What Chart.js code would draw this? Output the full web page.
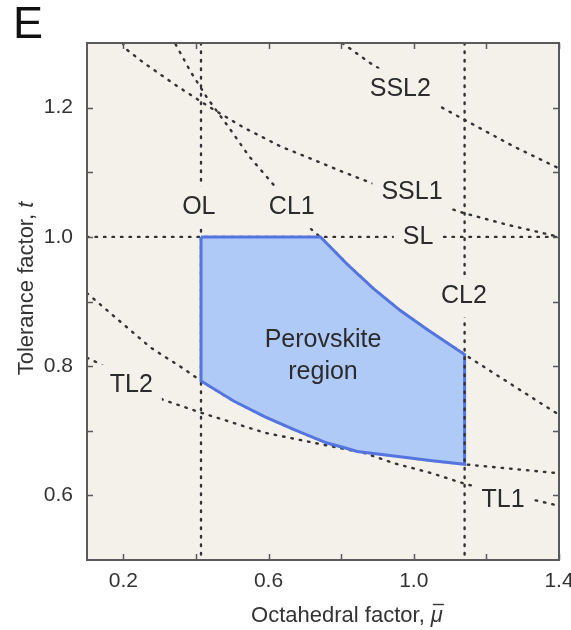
<!DOCTYPE html>
<html>
<head>
<meta charset="utf-8">
<script src="https://cdn.jsdelivr.net/npm/chart.js@4.4.1/dist/chart.umd.min.js"></script>
<style>
  html, body { margin: 0; padding: 0; background: #fff; }
  canvas { display: block; }
</style>
</head>
<body>
<canvas id="chart" width="571" height="630"></canvas>
<script>
const FONT = '"Liberation Sans", Arial, Helvetica, sans-serif';

// axis ticks (labels only on every other tick)
const xTicks = [0.2, 0.4, 0.6, 0.8, 1.0, 1.2, 1.4];
const xTickLabels = ['0.2', '', '0.6', '', '1.0', '', '1.4'];
const yTicks = [0.6, 0.7, 0.8, 0.9, 1.0, 1.1, 1.2];
const yTickLabels = ['0.6', '', '0.8', '', '1.0', '', '1.2'];

// boundary lines as [mu, t] pairs
const OL = [[0.414, 1.3], [0.414, 0.5]];
const CL2 = [[1.14, 1.3], [1.14, 0.5]];
const SL = [[0.1, 1.0], [1.4, 1.0]];
const CL1 = [[0.344, 1.298], [0.385, 1.256], [0.431, 1.215], [0.495, 1.166], [0.546, 1.125],
  [0.601, 1.089], [0.724, 1.008], [0.743, 1.0], [0.816, 0.958], [0.889, 0.920], [0.963, 0.886],
  [1.036, 0.857], [1.14, 0.818], [1.385, 0.730], [1.4, 0.725]];
const SSL1 = [[0.198, 1.3], [0.209, 1.29], [0.257, 1.269], [0.349, 1.233], [0.44, 1.2],
  [0.532, 1.169], [0.633, 1.14], [0.734, 1.117], [0.798, 1.102], [0.885, 1.083],
  [1.11, 1.042], [1.137, 1.037], [1.256, 1.019], [1.4, 1.0]];
const SSL2 = [[0.803, 1.3], [0.88, 1.269], [1.078, 1.2], [1.137, 1.182], [1.275, 1.14], [1.4, 1.106]];
const TL1 = [[0.1, 0.913], [0.185, 0.872], [0.277, 0.828], [0.369, 0.795], [0.414, 0.777],
  [0.504, 0.746], [0.589, 0.722], [0.669, 0.702], [0.761, 0.681], [0.807, 0.674],
  [0.867, 0.665], [0.944, 0.650], [1.045, 0.635], [1.146, 0.617], [1.384, 0.586], [1.4, 0.583]];
const TL2 = [[0.1, 0.813], [0.13, 0.805], [0.309, 0.748], [0.414, 0.728], [0.589, 0.697],
  [0.807, 0.672], [0.844, 0.668], [0.917, 0.663], [0.99, 0.658], [1.045, 0.654],
  [1.14, 0.648], [1.385, 0.635], [1.4, 0.634]];

// closed outline of the stable region
const region = [[0.414, 1.0], [0.743, 1.0], [0.816, 0.958], [0.889, 0.920], [0.963, 0.886],
  [1.036, 0.857], [1.14, 0.818], [1.14, 0.648], [1.045, 0.654], [0.99, 0.658], [0.917, 0.663],
  [0.844, 0.668], [0.807, 0.674], [0.761, 0.681], [0.669, 0.702], [0.589, 0.722],
  [0.504, 0.746], [0.414, 0.777], [0.414, 1.0]];

// text placed in data space; box = knock the dashed lines out behind it
const lineLabels = [
  { text: 'OL', x: 0.408, y: 1.046, box: true },
  { text: 'CL1', x: 0.664, y: 1.046, box: true },
  { text: 'SL', x: 1.012, y: 1.0, box: true },
  { text: 'SSL1', x: 0.995, y: 1.070, box: true },
  { text: 'SSL2', x: 0.963, y: 1.228, box: true },
  { text: 'CL2', x: 1.138, y: 0.908, box: true },
  { text: 'TL2', x: 0.222, y: 0.770, box: true },
  { text: 'TL1', x: 1.246, y: 0.593, box: true },
  { text: 'Perovskite', x: 0.75, y: 0.841, box: false },
  { text: 'region', x: 0.75, y: 0.7915, box: false },
];

const PLOT_BG = '#f3f1ea';
const toPoints = pairs => pairs.map(([x, y]) => ({ x, y }));

function dashedLine(pairs, order) {
  return {
    data: toPoints(pairs),
    showLine: true,
    borderColor: '#333',
    borderWidth: 2.4,
    borderDash: [1.5, 7],
    borderCapStyle: 'round',
    pointRadius: 0,
    fill: false,
    tension: 0,
    order,
  };
}

const plotBackground = {
  id: 'plotBackground',
  beforeDraw(chart) {
    const { ctx, chartArea: a } = chart;
    ctx.save();
    ctx.fillStyle = PLOT_BG;
    ctx.fillRect(a.left, a.top, a.right - a.left, a.bottom - a.top);
    ctx.restore();
  }
};

const labelPlugin = {
  id: 'lineLabels',
  afterDatasetsDraw(chart) {
    const { ctx, scales: { x, y } } = chart;
    ctx.save();
    ctx.font = `25px ${FONT}`;
    ctx.textAlign = 'center';
    ctx.textBaseline = 'middle';
    lineLabels.forEach(l => {
      const px = x.getPixelForValue(l.x);
      const py = y.getPixelForValue(l.y);
      if (l.box) {
        const w = ctx.measureText(l.text).width + 18;
        ctx.fillStyle = PLOT_BG;
        ctx.fillRect(px - w / 2, py - 21, w, 42);
      }
      ctx.fillStyle = '#2b2b2b';
      ctx.fillText(l.text, px, py);
    });
    ctx.restore();
  }
};

// frame with inward ticks on all four sides, axis titles and panel letter
const framePlugin = {
  id: 'frame',
  afterDraw(chart) {
    const { ctx, chartArea: a, scales: { x, y } } = chart;
    ctx.save();
    ctx.strokeStyle = '#5a5a5a';
    ctx.lineWidth = 1.5;
    ctx.beginPath();
    xTicks.forEach(v => {
      const px = Math.round(x.getPixelForValue(v)) + 0.5;
      ctx.moveTo(px, a.bottom); ctx.lineTo(px, a.bottom - 6);
      ctx.moveTo(px, a.top); ctx.lineTo(px, a.top + 6);
    });
    yTicks.forEach(v => {
      const py = Math.round(y.getPixelForValue(v)) + 0.5;
      ctx.moveTo(a.left, py); ctx.lineTo(a.left + 6, py);
      ctx.moveTo(a.right, py); ctx.lineTo(a.right - 6, py);
    });
    ctx.stroke();
    ctx.lineWidth = 2;
    ctx.strokeRect(a.left, a.top, a.right - a.left, a.bottom - a.top);

    ctx.fillStyle = '#333';
    ctx.textAlign = 'left';
    ctx.textBaseline = 'alphabetic';

    // x title: "Octahedral factor, μ̄"
    const reg = `22px ${FONT}`;
    const ital = `italic 22px ${FONT}`;
    ctx.font = reg;
    const xa = 'Octahedral factor, ';
    const wa = ctx.measureText(xa).width;
    ctx.font = ital;
    const wmu = ctx.measureText('μ').width;
    const x0 = 347 - (wa + wmu) / 2;
    ctx.font = reg;
    ctx.fillText(xa, x0, 622);
    ctx.font = ital;
    ctx.fillText('μ', x0 + wa, 622);
    ctx.lineWidth = 1.4;
    ctx.strokeStyle = '#333';
    ctx.beginPath();
    ctx.moveTo(x0 + wa + 2, 604.5);
    ctx.lineTo(x0 + wa + wmu + 1, 604.5);
    ctx.stroke();

    // y title: "Tolerance factor, t"
    ctx.save();
    ctx.translate(33, 288.5);
    ctx.rotate(-Math.PI / 2);
    ctx.font = reg;
    const ya = 'Tolerance factor, ';
    const wy = ctx.measureText(ya).width;
    ctx.font = ital;
    const wt = ctx.measureText('t').width;
    const y0 = -(wy + wt) / 2;
    ctx.font = reg;
    ctx.fillText(ya, y0, 0);
    ctx.font = ital;
    ctx.fillText('t', y0 + wy, 0);
    ctx.restore();

    ctx.fillStyle = '#111';
    ctx.font = `45px ${FONT}`;
    ctx.fillText('E', 13, 38);
    ctx.restore();
  }
};

const labelFor = (ticks, labels) => v => {
  const i = ticks.findIndex(t => Math.abs(t - v) < 1e-9);
  return i < 0 ? '' : labels[i];
};

new Chart(document.getElementById('chart'), {
  type: 'scatter',
  data: {
    datasets: [
      dashedLine(OL, 3),
      dashedLine(SL, 3),
      dashedLine(CL1, 3),
      dashedLine(SSL1, 3),
      dashedLine(SSL2, 3),
      dashedLine(TL1, 3),
      dashedLine(TL2, 3),
      {
        data: toPoints(region),
        showLine: true,
        borderColor: '#5474e0',
        borderWidth: 3,
        backgroundColor: '#b0caf7',
        fill: 'shape',
        pointRadius: 0,
        tension: 0,
        order: 2,
      },
      dashedLine(CL2, 1),
    ]
  },
  options: {
    responsive: false,
    animation: false,
    layout: { padding: { left: 0, top: 43, right: 12, bottom: 0 } },
    plugins: { legend: { display: false }, tooltip: { enabled: false } },
    scales: {
      x: {
        type: 'linear',
        min: 0.1,
        max: 1.4,
        grid: { display: false, drawTicks: false },
        border: { display: false },
        afterBuildTicks: s => { s.ticks = xTicks.map(value => ({ value })); },
        afterFit: s => { s.height = 70; s.paddingLeft = 0; s.paddingRight = 0; },
        ticks: {
          padding: 9,
          color: '#333',
          font: { family: FONT, size: 21 },
          maxRotation: 0,
          autoSkip: false,
          callback: labelFor(xTicks, xTickLabels),
        },
      },
      y: {
        type: 'linear',
        min: 0.5,
        max: 1.3,
        grid: { display: false, drawTicks: false },
        border: { display: false },
        afterBuildTicks: s => { s.ticks = yTicks.map(value => ({ value })); },
        afterFit: s => { s.width = 87; s.paddingTop = 0; s.paddingBottom = 0; },
        ticks: {
          padding: 14,
          color: '#333',
          font: { family: FONT, size: 21 },
          autoSkip: false,
          callback: labelFor(yTicks, yTickLabels),
        },
      },
    },
  },
  plugins: [plotBackground, labelPlugin, framePlugin],
});
</script>
</body>
</html>
